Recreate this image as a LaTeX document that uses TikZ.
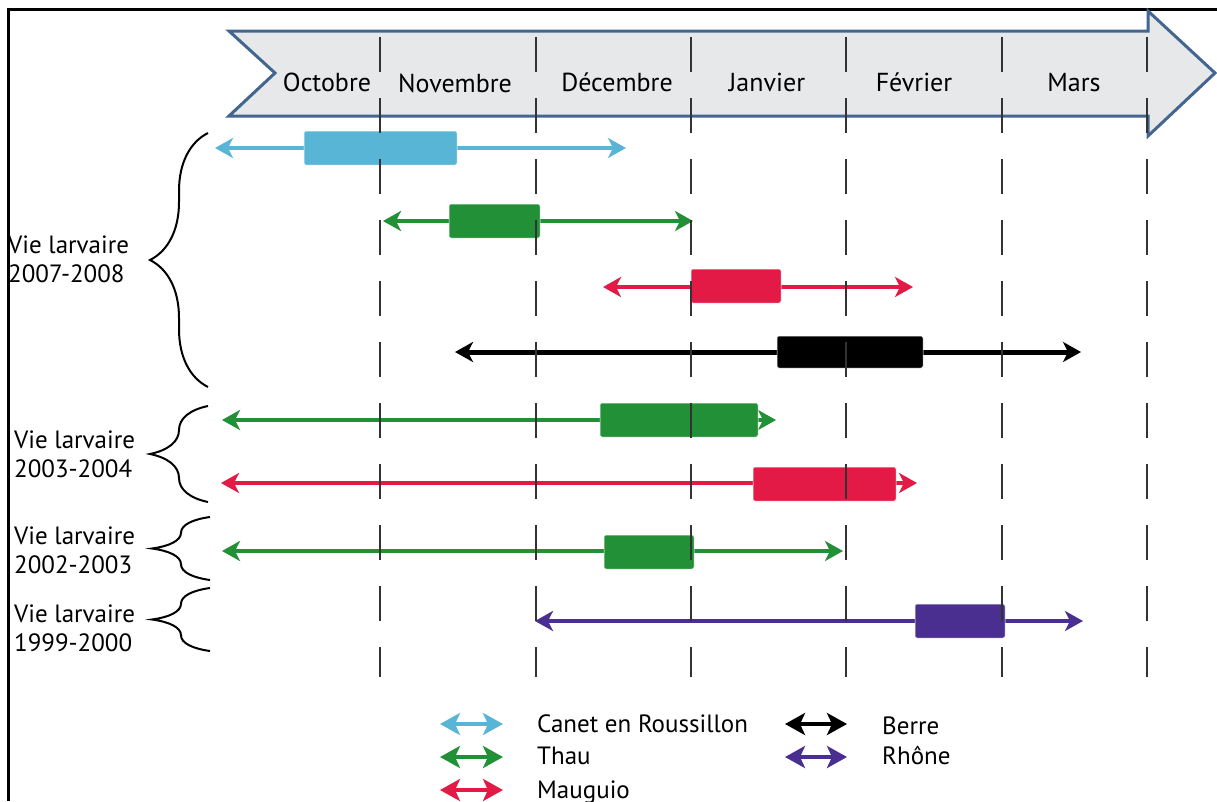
\documentclass[tikz,border=0pt]{standalone}
\usepackage{fontspec}
\setmainfont{PT Sans}
\usepackage{xcolor}
\usepackage{tikz}
\usetikzlibrary{arrows.meta, decorations.pathreplacing, positioning}
\definecolor{canet}{HTML}{59B5D5}
\definecolor{thau}{HTML}{219036}
\definecolor{mauguio}{HTML}{E31A45}
\definecolor{rhone}{HTML}{4A2F91}
\definecolor{tlborder}{HTML}{426690}
\definecolor{tlfill}{HTML}{E7E8EA}
\tikzstyle{timeline} = [draw=tlborder, fill=tlfill, line width=3pt, line join=miter]
\tikzstyle{month} = [anchor=base, inner sep=0pt, font=\fontsize{26}{30}\selectfont]
\tikzstyle{monthline} = [draw=black!80, line width=1.8pt, dash pattern=on 35pt off 26pt]
\tikzstyle{span} = [line width=4pt, {Stealth[length=18pt,width=20pt,inset=5pt]}-{Stealth[length=18pt,width=20pt,inset=5pt]}]
\tikzstyle{keyspan} = [line width=4pt, {Stealth[length=20pt,width=22pt,inset=5pt]}-{Stealth[length=20pt,width=22pt,inset=5pt]}]
\tikzstyle{bar} = [rectangle, rounded corners=2pt, inner sep=0pt, minimum height=34pt, draw=white, line width=0.5pt]
\tikzstyle{period} = [decorate, decoration={brace, amplitude=58pt}, line width=2pt]
\tikzstyle{yearlabel} = [anchor=west, align=left, inner sep=0pt, font=\fontsize{25}{29}\selectfont]
\tikzstyle{keytext} = [anchor=base west, inner sep=0pt, font=\fontsize{25}{29}\selectfont]

\begin{document}
\begin{tikzpicture}[x=1pt, y=-1pt]
\clip (0,0) rectangle (1217,801);
% frame
\draw [line width=3pt] (1217,9) -- (8,9) -- (8,801);

% time axis
\draw [timeline] (229,31) -- (275,73) -- (229,116) -- (1148,116) -- (1148,136)
  -- (1215,73) -- (1148,11) -- (1148,31) -- cycle;
\node (oct) [month] at (327,91) {Octobre};
\node (nov) [month] at (455,92) {Novembre};
\node (dec) [month] at (617,91) {Décembre};
\node (jan) [month] at (767,91) {Janvier};
\node (feb) [month] at (914,91) {Février};
\node (mar) [month] at (1074,91) {Mars};

% 2007-2008
\coordinate (canetL) at (215,148);
\coordinate (canetR) at (626,148);
\draw [span, canet] (canetL) -- (canetR);
\node (canetBar) [bar, fill=canet, minimum width=153pt] at (380.5,148) {};

\coordinate (thauAL) at (383,221);
\coordinate (thauAR) at (693,221);
\draw [span, thau] (thauAL) -- (thauAR);
\node (thauABar) [bar, fill=thau, minimum width=91pt] at (494.5,221) {};

\coordinate (mauAL) at (603,287);
\coordinate (mauAR) at (913,287);
\draw [span, mauguio] (mauAL) -- (mauAR);
\node (mauABar) [bar, fill=mauguio, minimum width=90pt] at (736,286) {};

\coordinate (berreL) at (455,352);
\coordinate (berreR) at (1081,352);
\draw [span, black, line width=5pt] (berreL) -- (berreR);
\node (berreBar) [bar, fill=black, minimum width=146pt, minimum height=32pt] at (850,352) {};

% 2003-2004
\coordinate (thauBL) at (222,420);
\coordinate (thauBR) at (776,420);
\draw [span, thau] (thauBL) -- (thauBR);
\node (thauBBar) [bar, fill=thau, minimum width=158pt] at (679,420) {};

\coordinate (mauBL) at (221,483);
\coordinate (mauBR) at (917,483);
\draw [span, mauguio] (mauBL) -- (mauBR);
\node (mauBBar) [bar, fill=mauguio, minimum width=143pt] at (824.5,484) {};

% 2002-2003
\coordinate (thauCL) at (222,551);
\coordinate (thauCR) at (843,551);
\draw [span, thau] (thauCL) -- (thauCR);
\node (thauCBar) [bar, fill=thau, minimum width=90pt] at (649,552) {};

% 1999-2000
\coordinate (rhoneL) at (535,621);
\coordinate (rhoneR) at (1083,621);
\draw [span, rhone] (rhoneL) -- (rhoneR);
\node (rhoneBar) [bar, fill=rhone, minimum width=90pt] at (960,621) {};

% month limits
\draw [monthline] (380,37) -- (380,677);
\draw [monthline] (536,37) -- (536,677);
\draw [monthline] (691,37) -- (691,677);
\draw [monthline] (846,37) -- (846,677);
\draw [monthline] (1002,37) -- (1002,677);
\draw [monthline] (1147,37) -- (1147,677);

% periods
\draw [period] (208,387) -- (208,133);
\draw [period] (208,502) -- (208,406);
\draw [period] (210,580) -- (210,517);
\draw [period] (210,651) -- (210,588);
\node (y0708) [yearlabel] at (8,259) {Vie larvaire\\2007-2008};
\node (y0304) [yearlabel] at (14,454) {Vie larvaire\\2003-2004};
\node (y0203) [yearlabel] at (14,550) {Vie larvaire\\2002-2003};
\node (y9900) [yearlabel] at (14,628) {Vie larvaire\\1999-2000};

% legend
\coordinate (kCanetL) at (440,724);
\coordinate (kCanetR) at (503,724);
\coordinate (kThauL) at (440,757);
\coordinate (kThauR) at (503,757);
\coordinate (kMauL) at (440,790);
\coordinate (kMauR) at (503,790);
\coordinate (kBerreL) at (785,724);
\coordinate (kBerreR) at (847,724);
\coordinate (kRhoneL) at (785,757);
\coordinate (kRhoneR) at (847,757);
\draw [keyspan, canet] (kCanetL) -- (kCanetR);
\draw [keyspan, thau] (kThauL) -- (kThauR);
\draw [keyspan, mauguio] (kMauL) -- (kMauR);
\draw [keyspan, black] (kBerreL) -- (kBerreR);
\draw [keyspan, rhone] (kRhoneL) -- (kRhoneR);
\node (tCanet) [keytext] at (537,732) {Canet en Roussillon};
\node (tThau) [keytext] at (537,764) {Thau};
\node (tMau) [keytext] at (537,798) {Mauguio};
\node (tBerre) [keytext] at (882,734) {Berre};
\node (tRhone) [keytext] at (882,764) {Rhône};
\end{tikzpicture}
\end{document}
